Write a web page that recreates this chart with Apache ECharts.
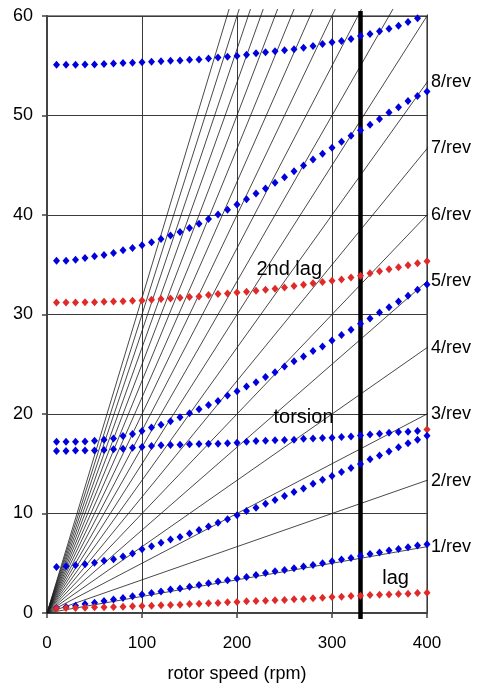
<!DOCTYPE html>
<html><head><meta charset="utf-8">
<script src="https://cdn.jsdelivr.net/npm/echarts@6/dist/echarts.min.js"></script>
<style>html,body{margin:0;padding:0;background:#fff}#c{width:484px;height:684px}</style>
</head><body><div id="c"></div>
<script>
// ---- data ----
const rpm = [10,20,30,40,50,60,70,80,90,100,110,120,130,140,150,160,170,180,190,200,
             210,220,230,240,250,260,270,280,290,300,310,320,330,340,350,360,370,380,390,400];
const mode55 = [55.10,55.10,55.10,55.12,55.13,55.17,55.23,55.27,55.29,55.34,55.40,55.44,55.50,55.53,55.60,55.64,55.74,55.84,55.90,55.97,
                56.10,56.25,56.35,56.45,56.55,56.65,56.80,56.98,57.18,57.35,57.50,57.70,57.99,58.19,58.46,58.73,59.03,59.40,59.77,null];
const mode35 = [35.41,35.41,35.51,35.68,35.85,35.98,36.19,36.45,36.68,36.95,37.25,37.59,37.93,38.29,38.70,39.13,39.60,40.04,40.54,41.05,
                41.58,42.15,42.66,43.23,43.80,44.40,44.97,45.57,46.15,46.75,47.36,47.96,48.53,49.07,49.64,50.30,50.84,51.45,51.95,52.42];
const lag2 = [31.21,31.21,31.21,31.24,31.24,31.28,31.31,31.34,31.38,31.41,31.48,31.55,31.61,31.68,31.75,31.82,31.95,32.05,32.12,32.22,
              32.29,32.39,32.49,32.59,32.72,32.86,32.99,33.13,33.26,33.39,33.53,33.72,33.90,34.15,34.35,34.55,34.75,34.95,35.15,35.35];
const mode17 = [17.20,17.20,17.20,17.24,17.30,17.40,17.55,17.78,17.98,18.30,18.64,18.93,19.26,19.68,20.07,20.47,20.91,21.31,21.85,22.29,
                22.76,23.19,23.73,24.20,24.77,25.30,25.77,26.34,26.78,27.38,27.95,28.46,29.06,29.60,30.20,30.74,31.31,31.88,32.48,33.02];
const torsion = [16.28,16.28,16.32,16.32,16.32,16.38,16.45,16.52,16.62,16.68,16.78,16.85,16.88,16.91,16.95,16.98,17.01,17.01,17.05,17.11,
                 17.21,17.28,17.31,17.35,17.38,17.41,17.51,17.55,17.58,17.62,17.68,17.75,17.85,17.95,18.02,18.12,18.19,18.22,18.29,18.45];
const mode4 = [4.63,4.70,4.80,4.90,5.04,5.24,5.41,5.67,5.98,6.40,6.71,7.05,7.39,7.65,7.99,8.33,8.69,9.07,9.43,9.83,
               10.24,10.57,10.98,11.35,11.75,12.15,12.52,12.99,13.39,13.76,14.16,14.57,14.97,15.45,15.84,16.24,16.66,17.05,17.42,17.82];
const flap1 = [0.50,0.61,0.74,0.91,1.04,1.21,1.35,1.51,1.68,1.85,2.01,2.15,2.35,2.45,2.65,2.82,2.99,3.16,3.29,3.46,
               3.63,3.83,4.03,4.20,4.33,4.50,4.67,4.83,5.00,5.20,5.37,5.54,5.74,5.94,6.08,6.28,6.44,6.61,6.78,6.92];
const lag1 = [0.44,0.51,0.51,0.54,0.57,0.57,0.61,0.64,0.67,0.71,0.74,0.77,0.81,0.84,0.91,0.94,0.97,1.01,1.07,1.11,
              1.17,1.21,1.24,1.27,1.31,1.37,1.41,1.47,1.54,1.61,1.64,1.71,1.74,1.81,1.84,1.87,1.91,1.94,2.01,2.04];
const harmonics = [1,2,3,4,5,6,7,8,9,10,11,12,13,14,15,16,17,18,19];
const revLabels = ['1/rev','2/rev','3/rev','4/rev','5/rev','6/rev','7/rev','8/rev'];
const operatingRpm = 330;
const xTicks = [0,100,200,300,400];
const yTicks = [0,10,20,30,40,50,60];
const notes = ['2nd lag','torsion','lag'];

// ---- chart ----
const FONT = '"Liberation Sans", Arial, sans-serif';
const BLUE = '#0000dd', RED = '#e02a2a';
const chart = echarts.init(document.getElementById('c'), null, {renderer: 'canvas'});

function pts(vals) {
  const out = [];
  rpm.forEach((x, i) => { if (vals[i] != null) out.push([x, vals[i]]); });
  return out;
}
function dots(vals, color, lastColor) {
  const d = pts(vals);
  if (lastColor) { const l = d.pop(); d.push({value: l, itemStyle: {color: lastColor}}); }
  return {type: 'scatter', data: d, symbol: 'diamond', symbolSize: [7, 8],
          itemStyle: {color: color, opacity: 1}, z: 5, silent: true, animation: false};
}
const rpmMax = 405, fTop = 60.7;
const fanSeries = harmonics.map(n => {
  const xEnd = Math.min(rpmMax, fTop * 60 / n);
  const s = {type: 'line', data: [[0, 0], [xEnd, n * xEnd / 60]], symbol: 'none', clip: false,
             lineStyle: {color: '#1a1a1a', width: 0.8}, silent: true, animation: false, z: 2};
  if (n <= revLabels.length) {
    s.endLabel = {show: true, formatter: revLabels[n - 1], distance: 3, offset: [0, 1],
                  fontSize: 18, fontFamily: FONT, color: '#000'};
  }
  return s;
});

const option = {
  animation: false,
  grid: {left: 47, right: 57, top: 16, bottom: 71, show: true, borderColor: '#8a8a8a', borderWidth: 2,
         containLabel: false, outerBoundsMode: 'none'},
  xAxis: {type: 'value', min: xTicks[0], max: xTicks[xTicks.length - 1], interval: 100,
    name: 'rotor speed (rpm)', nameLocation: 'middle', nameGap: 52,
    nameTextStyle: {fontSize: 18, color: '#000', fontFamily: FONT},
    axisLine: {show: true, onZero: false, lineStyle: {color: '#444', width: 2}},
    axisTick: {show: true, length: 5, lineStyle: {color: '#444', width: 1.5}},
    axisLabel: {fontSize: 17, color: '#000', fontFamily: FONT, margin: 22},
    splitLine: {show: true, lineStyle: {color: '#3a3a3a', width: 1}}},
  yAxis: {type: 'value', min: yTicks[0], max: yTicks[yTicks.length - 1], interval: 10,
    axisLine: {show: true, onZero: false, lineStyle: {color: '#444', width: 2}},
    axisTick: {show: true, length: 5, lineStyle: {color: '#444', width: 1.5}},
    axisLabel: {fontSize: 18, color: '#000', fontFamily: FONT, margin: 14},
    splitLine: {show: true, lineStyle: {color: '#3a3a3a', width: 1}}},
  series: [
    ...fanSeries,
    {type: 'line', data: [[operatingRpm, -0.6], [operatingRpm, 60.5]], symbol: 'none', clip: false,
     lineStyle: {color: '#000', width: 4.5}, silent: true, z: 3},
    dots(mode55, BLUE), dots(mode35, BLUE), dots(mode17, BLUE), dots(torsion, BLUE, RED),
    dots(mode4, BLUE), dots(flap1, BLUE),
    dots(lag2, RED), dots(lag1, RED)
  ]
};
chart.setOption(option);

// annotation texts placed at data coordinates
const notePos = [[255, 34.5], [270, 19.6], [367, 3.5]];
chart.setOption({
  graphic: notes.map((t, i) => {
    const p = chart.convertToPixel({gridIndex: 0}, notePos[i]);
    return {type: 'text', x: p[0], y: p[1], z: 100,
            style: {text: t, fill: '#000', font: '20px ' + FONT, align: 'center', verticalAlign: 'middle'}};
  })
});
</script></body></html>
